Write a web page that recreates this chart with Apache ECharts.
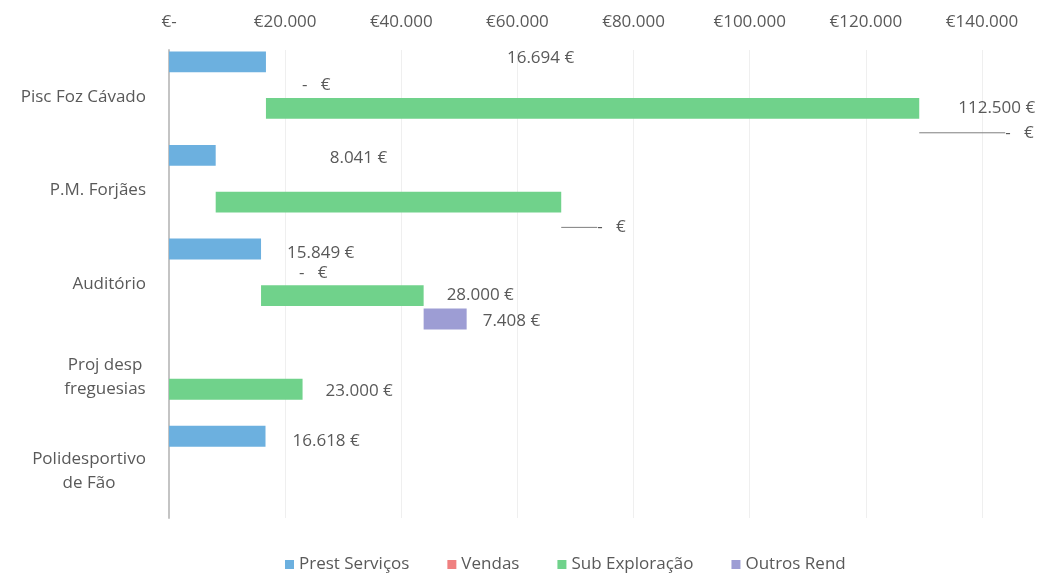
<!DOCTYPE html>
<html>
<head>
<meta charset="utf-8">
<script src="https://cdn.jsdelivr.net/npm/echarts@6/dist/echarts.min.js"></script>
<style>
  html, body { margin: 0; padding: 0; background: #fff; }
  #chart { width: 1042px; height: 576px; }
</style>
</head>
<body>
<div id="chart"></div>
<script>
// categories (top to bottom)
const projects = ['Pisc Foz Cávado', 'P.M. Forjães', 'Auditório', 'Proj desp\nfreguesias', 'Polidesportivo\nde Fão']
// series values, in euro
const prestServicos = [16694, 8041, 15849, 0, 16618]
const vendas = [0, 0, 0, 0, 0]
const subExploracao = [112500, 59500, 28000, 23000, 0]
const outrosRend = [0, 0, 7408, 0, 0]
// x axis ticks
const xMin = 0
const xMax = 140000
const xStep = 20000

const FONT = 'Open Sans'
const TEXT = '#595959'
const FS = 17

// hand placed data labels, like in the original sheet: [dx, dy, guide line]
const labelTweaks = {
  'Prest Serviços|0': [236, -4],
  'Vendas|0': [31, 0],
  'Sub Exploração|0': [34, 0],
  'Outros Rend|0': [81, 1, true],
  'Prest Serviços|1': [109, 3],
  'Outros Rend|1': [31, 2, true],
  'Prest Serviços|2': [21, 4],
  'Vendas|2': [33, 1],
  'Sub Exploração|2': [18, -1],
  'Outros Rend|2': [11, 2],
  'Sub Exploração|3': [18, 2],
  'Prest Serviços|4': [22, 5]
}

function euro (v) {
  if (!v) return '-   €'
  return String(v).replace(/\B(?=(\d{3})+(?!\d))/g, '.') + ' €'
}
function axisEuro (v) {
  if (!v) return '€-'
  return '€' + String(v).replace(/\B(?=(\d{3})+(?!\d))/g, '.')
}

const ctx = document.createElement('canvas').getContext('2d')
ctx.font = FS + 'px "' + FONT + '"'
function textW (s) { return Math.ceil(ctx.measureText(s).width) }

const sum = (...arrs) => arrs[0].map((_, i) => arrs.reduce((a, b) => a + b[i], 0))

function visible (name, stack, values, color) {
  return {
    name: name,
    type: 'bar',
    stack: stack,
    barCategoryGap: '3%',
    barGap: '12%',
    itemStyle: { color: color },
    label: {
      show: false,
      position: 'right',
      distance: 5,
      color: TEXT,
      fontFamily: FONT,
      fontSize: FS,
      formatter: p => euro(p.value)
    },
    labelLine: { show: false, lineStyle: { color: '#7f7f7f', width: 1 } },
    labelLayout: p => {
      const t = labelTweaks[name + '|' + p.dataIndex]
      return t ? { dx: t[0], dy: t[1] } : {}
    },
    data: values.map((v, i) => {
      const t = labelTweaks[name + '|' + i]
      return { value: v, label: { show: !!t }, labelLine: { show: !!(t && t[2]) } }
    })
  }
}
function base (stack, values) {
  return {
    name: '_base_' + stack,
    type: 'bar',
    stack: stack,
    silent: true,
    itemStyle: { color: 'transparent' },
    data: values
  }
}

const myChart = echarts.init(document.getElementById('chart'))
const option = {
  animation: false,
  textStyle: { fontFamily: FONT },
  grid: { left: 169, right: 60, top: 50, bottom: 58 },
  legend: {
    top: 551,
    left: 280,
    icon: 'rect',
    itemWidth: 9,
    itemHeight: 9,
    itemGap: 38,
    textStyle: { color: TEXT, fontSize: FS, fontFamily: FONT },
    data: ['Prest Serviços', 'Vendas', 'Sub Exploração', 'Outros Rend']
  },
  xAxis: {
    type: 'value',
    position: 'top',
    min: xMin,
    max: xMax,
    interval: xStep,
    axisLine: { show: false },
    axisTick: { show: false },
    axisLabel: { color: TEXT, fontSize: FS, fontFamily: FONT, margin: 19, formatter: axisEuro },
    splitLine: { lineStyle: { color: '#efefef' } }
  },
  yAxis: {
    type: 'category',
    inverse: true,
    data: projects,
    axisLine: { lineStyle: { color: '#c4c4c4', width: 2 } },
    axisTick: { show: false },
    axisLabel: {
      color: TEXT,
      fontSize: FS,
      fontFamily: FONT,
      margin: 23,
      lineHeight: 24,
      formatter: v => {
        const lines = v.split('\n')
        if (lines.length === 1) return v
        const w = Math.max(...lines.map(textW))
        return lines.map(l => '{c' + w + '|' + l + '}').join('\n')
      },
      rich: (() => {
        const r = {}
        projects.filter(p => p.includes('\n')).forEach(p => {
          const w = Math.max(...p.split('\n').map(textW))
          r['c' + w] = { width: w, align: 'center', color: TEXT, fontSize: FS, fontFamily: FONT, lineHeight: 24 }
        })
        return r
      })()
    }
  },
  series: [
    visible('Prest Serviços', 'p', prestServicos, '#6cb0df'),
    base('v', prestServicos),
    visible('Vendas', 'v', vendas, '#ef8080'),
    base('s', sum(prestServicos, vendas)),
    visible('Sub Exploração', 's', subExploracao, '#70d28b'),
    base('o', sum(prestServicos, vendas, subExploracao)),
    visible('Outros Rend', 'o', outrosRend, '#9d9dd4')
  ]
}
myChart.setOption(option)
</script>
</body>
</html>
